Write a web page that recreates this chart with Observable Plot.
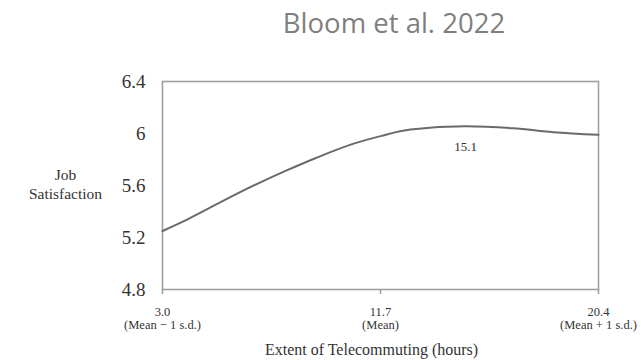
<!DOCTYPE html>
<html>
<head>
<meta charset="utf-8">
<style>
  html, body { margin: 0; padding: 0; background: #fff; }
  #wrap { width: 641px; height: 360px; position: relative; overflow: hidden; }
  #title { position: relative; height: 50px; }
  #title span { position: absolute; top: 9px; left: 394px; transform: translateX(-50%); white-space: nowrap;
    font-family: "Open Sans", sans-serif; font-size: 27.5px; line-height: 28px; color: #7f7f7f; }
</style>
<script src="https://cdn.jsdelivr.net/npm/d3@7"></script>
<script src="https://cdn.jsdelivr.net/npm/@observablehq/plot@0.6"></script>
</head>
<body>
<div id="wrap">
  <div id="title"><span>Bloom et al. 2022</span></div>
  <div id="chart"></div>
</div>
<script>
// Data
const hours = [3.0, 4.0, 6.0, 8.0, 9.1, 10.6, 11.7, 12.9, 15.1, 17.0, 18.6, 20.4];
const satisfaction = [5.25, 5.34, 5.54, 5.72, 5.81, 5.92, 5.98, 6.03, 6.055, 6.04, 6.01, 5.99];
const xTicks = [3.0, 11.7, 20.4];
const xTickLabels = ["3.0\n(Mean \u2212 1 s.d.)", "11.7\n(Mean)", "20.4\n(Mean + 1 s.d.)"];
const yTicks = [4.8, 5.2, 5.6, 6, 6.4];
const peakHours = [15.1];
const peakValue = [6.055];
const peakLabel = ["15.1"];
const xLabel = "Extent of Telecommuting (hours)";
const yLabel = "Job\nSatisfaction";

const data = hours.map((h, i) => ({h, v: satisfaction[i]}));
const peak = peakHours.map((h, i) => ({h, v: peakValue[i], t: peakLabel[i]}));

const serif = "'Liberation Serif', 'Times New Roman', serif";

const chart = Plot.plot({
  width: 641,
  height: 310,
  marginTop: 31,
  marginBottom: 71,
  marginLeft: 162,
  marginRight: 43,
  style: { fontFamily: serif, color: "#333", background: "#fff" },
  x: { domain: [3.0, 20.4] },
  y: { domain: [4.8, 6.4] },
  marks: [
    Plot.frame({ stroke: "#a0a0a0", strokeWidth: 1.6 }),
    Plot.axisY({ ticks: yTicks, tickSize: 0, tickPadding: 17, fontSize: 19, label: null,
      tickFormat: d => String(d), fill: "#333" }),
    Plot.axisX({ ticks: xTicks, tickSize: 5, tickPadding: 13, fontSize: 12.5, label: null,
      stroke: "#9a9a9a", strokeWidth: 1.5, fill: "#333", lineHeight: 1.0,
      tickFormat: d => xTickLabels[xTicks.indexOf(d)] }),
    Plot.line(data, { x: "h", y: "v", curve: "monotone-x", stroke: "#6a6a6a", strokeWidth: 2 }),
    Plot.text(peak, { x: "h", y: "v", text: "t", dy: 20, fontSize: 13, fill: "#333" }),
    Plot.text([xLabel], { frameAnchor: "bottom", dx: -9, dy: 65, text: d => d, fontSize: 16, fill: "#333" }),
    Plot.text([yLabel], { frameAnchor: "left", dx: -97, dy: -2, text: d => d, fontSize: 15.5,
      lineHeight: 1.22, textAnchor: "middle", fill: "#333" })
  ]
});
document.getElementById("chart").appendChild(chart);
</script>
</body>
</html>
